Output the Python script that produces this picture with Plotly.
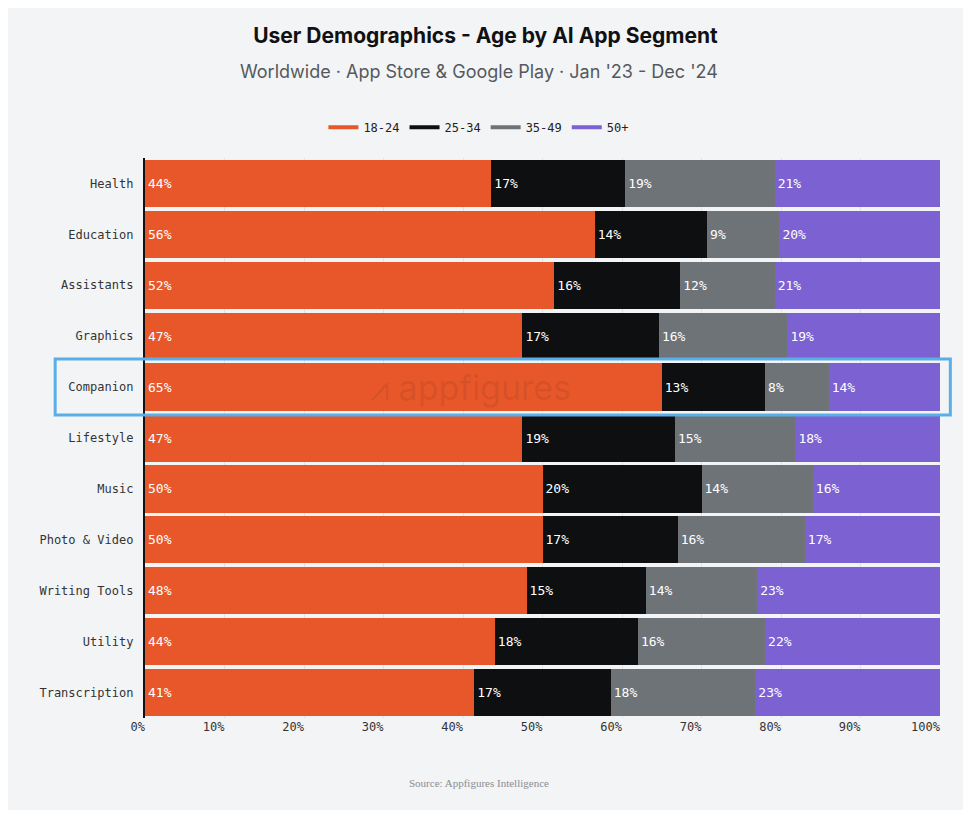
import plotly.graph_objects as go

# data
segments = ['Health', 'Education', 'Assistants', 'Graphics', 'Companion', 'Lifestyle',
            'Music', 'Photo & Video', 'Writing Tools', 'Utility', 'Transcription']
age_18_24 = [44, 56, 52, 47, 65, 47, 50, 50, 48, 44, 41]
age_25_34 = [17, 14, 16, 17, 13, 19, 20, 17, 15, 18, 17]
age_35_49 = [19, 9, 12, 16, 8, 15, 14, 16, 14, 16, 18]
age_50_plus = [21, 20, 21, 19, 14, 18, 16, 17, 23, 22, 23]
groups = ['18-24', '25-34', '35-49', '50+']
colors = ['#e8572a', '#0d0f10', '#6e7378', '#7b61d1']
x_ticks = [0, 10, 20, 30, 40, 50, 60, 70, 80, 90, 100]

mono = 'DejaVu Sans Mono'
bg = '#f3f4f6'

fig = go.Figure()
for name, vals, col in zip(groups, [age_18_24, age_25_34, age_35_49, age_50_plus], colors):
    fig.add_trace(go.Bar(
        y=segments, x=vals, name=name, orientation='h', showlegend=False,
        marker=dict(color=col, line=dict(width=0)),
        text=[f'{v}%' for v in vals], texttemplate='%{text}',
        textposition='inside', insidetextanchor='start',
        textfont=dict(family=mono, size=13, color='white'),
    ))
# legend entries drawn as short lines
for name, col in zip(groups, colors):
    fig.add_trace(go.Scatter(x=[None], y=[None], mode='lines', name=name,
                             line=dict(color=col, width=4)))

# companion highlight box
fig.add_shape(type='rect', xref='paper', yref='y', x0=-0.113, x1=1.013, y0=3.45, y1=4.55,
              line=dict(color='#5aaee8', width=3), layer='above')

# watermark
fig.add_annotation(text='⩘ appfigures', xref='paper', yref='y', x=0.41, y=4, showarrow=False,
                   font=dict(family='Inter', size=34, color='rgba(90,40,20,0.13)'))

fig.add_annotation(text='Worldwide · App Store & Google Play · Jan \'23 - Dec \'24',
                   xref='paper', yref='paper', x=0.42, y=1.177, showarrow=False,
                   font=dict(family='Inter', size=18, color='#55595e'))
fig.add_annotation(text='Source: Appfigures Intelligence', xref='paper', yref='paper',
                   x=0.42, y=-0.13, showarrow=False,
                   font=dict(family='Liberation Serif', size=11, color='#8a8d91'))

fig.update_layout(
    barmode='stack', barnorm='percent', bargap=0.07,
    width=955, height=802,
    paper_bgcolor=bg, plot_bgcolor=bg,
    margin=dict(l=137, r=23, t=150, b=92),
    title=dict(text='<b>User Demographics - Age by AI App Segment</b>', x=0.5, xanchor='center',
               y=0.965, yanchor='middle', font=dict(family='Inter', size=21, color='#111')),
    legend=dict(orientation='h', x=0.42, xanchor='center', y=1.055, yanchor='middle',
                traceorder='normal', font=dict(family=mono, size=12, color='#222'),
                itemwidth=30),
    showlegend=True,
    uniformtext=dict(mode='show', minsize=12),
)
fig.update_xaxes(range=[0, 100], tickvals=x_ticks, ticktext=[f'{t}%' for t in x_ticks],
                 ticklabelposition='outside left', showgrid=True, gridcolor='#e2e3e6',
                 zeroline=False, tickfont=dict(family=mono, size=12, color='#333'))
fig.update_yaxes(autorange='reversed', showline=True, linecolor='#111', linewidth=2,
                 ticks='', ticksuffix=' ', tickfont=dict(family=mono, size=12, color='#333'))

fig.write_html('out.html')
